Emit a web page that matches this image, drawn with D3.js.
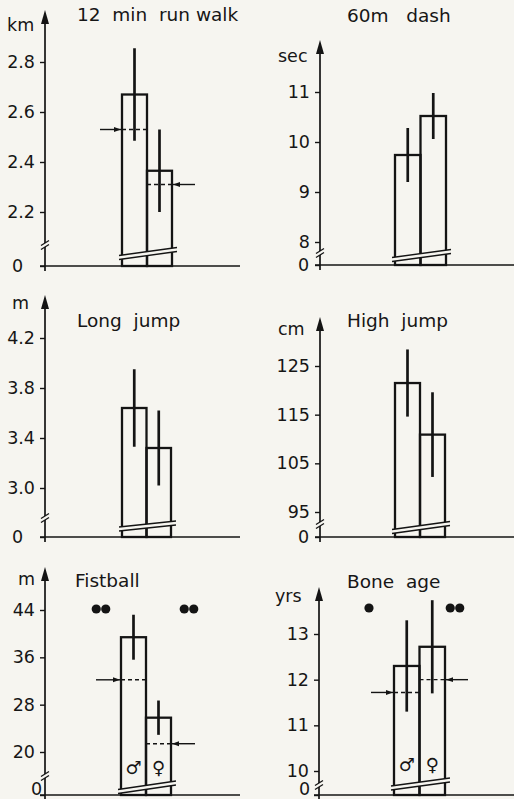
<!DOCTYPE html>
<html>
<head>
<meta charset="utf-8">
<script src="https://cdn.jsdelivr.net/npm/d3@7"></script>
<style>
  html, body { margin: 0; padding: 0; background: #f6f5f0; }
  svg { display: block; }
  text { font-family: "DejaVu Sans", sans-serif; fill: #161616; white-space: pre; }
</style>
</head>
<body>
<svg id="chart" width="514" height="799"></svg>
<script>
// values (one row per panel)
var titles = ["12  min  run walk", "60m   dash", "Long  jump", "High  jump", "Fistball", "Bone  age"];
var units = ["km", "sec", "m", "cm", "m", "yrs"];
var groups = ["male", "female"];
var symbols = ["\u2642", "\u2640"];

var meanValues = [[2.67, 2.365], [9.74, 10.52], [3.64, 3.32], [121.5, 110.9], [39.4, 25.8], [12.3, 12.72]];
var sdValues = [[0.185, 0.165], [0.54, 0.46], [0.31, 0.3], [6.9, 8.7], [3.8, 2.9], [1.0, 1.02]];
var refValues = [[2.53, 2.31], null, null, null, [32.2, 21.4], [11.72, 12.0]];

var tickValues = [[0, 2.2, 2.4, 2.6, 2.8], [0, 8, 9, 10, 11], [0, 3.0, 3.4, 3.8, 4.2],
                  [0, 95, 105, 115, 125], [0, 20, 28, 36, 44], [0, 10, 11, 12, 13]];
var tickLabels = [["0", "2.2", "2.4", "2.6", "2.8"], ["0", "8", "9", "10", "11"], ["0", "3.0", "3.4", "3.8", "4.2"],
                  ["0", "95", "105", "115", "125"], ["0", "20", "28", "36", "44"], ["0", "10", "11", "12", "13"]];
var sigDots = [[0, 0], [0, 0], [0, 0], [0, 0], [2, 2], [1, 2]];
var showSymbols = [false, false, false, false, true, true];

// page layout of each panel (pixels)
var layout = [
  {ax: 45, top: 10, base: 266, yLo: 212, yHi: 62, bars: [122, 172], xEnd: 240, cut: 245, brk: [8.5, 16.5],
   tx: 77, ty: 21, ux: 7, uy: 31, arrowX: [100, 195], zeroX: -33, zeroDy: 0},
  {ax: 320, top: 40, base: 265, yLo: 242, yHi: 92, bars: [395, 446], xEnd: 520, cut: 253, brk: [5.5, 13.5],
   tx: 347, ty: 22, ux: 278, uy: 62, zeroX: -22, zeroDy: 0},
  {ax: 45, top: 295, base: 537, yLo: 488, yHi: 338, bars: [122, 171], xEnd: 240, cut: 518, brk: [8, 14],
   tx: 77, ty: 327, ux: 12, uy: 309, zeroX: -33, zeroDy: 0},
  {ax: 320, top: 317, base: 537, yLo: 512, yHi: 366, bars: [395, 445], xEnd: 520, cut: 524, brk: [5.5, 13.5],
   tx: 347, ty: 327, ux: 278, uy: 335, zeroX: -22, zeroDy: 0},
  {ax: 45, top: 567, base: 795, yLo: 752, yHi: 610, bars: [121, 171], xEnd: 240, cut: 776, brk: [3.5, 12],
   tx: 75, ty: 587, ux: 18, uy: 585, arrowX: [96, 195], sigX: [101, 189], sigY: 609, symY: 774,
   zeroX: -14, zeroDy: -6},
  {ax: 319, top: 587, base: 795, yLo: 771, yHi: 634, bars: [394, 445], xEnd: 520, cut: 785, brk: [7, 15],
   tx: 347, ty: 588, ux: 275, uy: 602, arrowX: [371, 468], sigX: [369, 455], sigY: 608, symY: 771,
   zeroX: -20, zeroDy: -6}
];

var ink = "#141414", bg = "#f6f5f0";
var svg = d3.select("#chart");

svg.append("defs").append("marker")
  .attr("id", "head")
  .attr("viewBox", "0 0 10 10")
  .attr("refX", 10).attr("refY", 5)
  .attr("markerWidth", 7).attr("markerHeight", 7)
  .attr("markerUnits", "userSpaceOnUse")
  .attr("orient", "auto")
  .append("path")
  .attr("d", "M0,1.5 L10,5 L0,8.5 Z")
  .attr("fill", ink);

layout.forEach(function(L, p) {
  var g = svg.append("g");
  var ticks = tickValues[p];
  var lo = ticks[1], hi = ticks[ticks.length - 1];

  // broken axis: 0 sits on the baseline, the rest is linear
  var y = d3.scaleLinear()
    .domain([0, lo, hi])
    .range([L.base, L.yLo, L.yHi]);

  var x = d3.scaleBand()
    .domain(groups)
    .range(L.bars)
    .padding(0);

  // x axis
  g.append("line")
    .attr("x1", L.ax - 5).attr("x2", L.xEnd)
    .attr("y1", L.base).attr("y2", L.base)
    .attr("stroke", ink).attr("stroke-width", 1.7);

  // y axis line with arrow
  g.append("line")
    .attr("x1", L.ax).attr("x2", L.ax)
    .attr("y1", L.base + 5).attr("y2", L.top + 8)
    .attr("stroke", ink).attr("stroke-width", 1.7);
  g.append("path")
    .attr("d", "M" + L.ax + "," + L.top + " l4,14 l-8,0 Z")
    .attr("fill", ink);

  // axis break mark
  g.append("rect")
    .attr("x", L.ax - 3).attr("y", L.cut - 2)
    .attr("width", 6).attr("height", 4)
    .attr("fill", bg);
  [-2, 2].forEach(function(o) {
    g.append("line")
      .attr("x1", L.ax - 4).attr("x2", L.ax + 4)
      .attr("y1", L.cut + o + 2.5).attr("y2", L.cut + o - 2.5)
      .attr("stroke", ink).attr("stroke-width", 1.3);
  });

  var axis = g.append("g")
    .attr("transform", "translate(" + L.ax + ",0)")
    .call(d3.axisLeft(y)
      .tickValues(ticks)
      .tickSize(5)
      .tickPadding(5)
      .tickFormat(function(d, i) { return tickLabels[p][i]; }));
  axis.select(".domain").remove();
  axis.selectAll("line").attr("stroke", ink).attr("stroke-width", 1.4);
  axis.selectAll("text")
    .attr("font-size", "17.5px")
    .attr("fill", ink)
    .style("font-family", "DejaVu Sans, sans-serif");
  // the zero label sits a little apart from the others
  axis.selectAll(".tick").filter(function(d) { return d === 0; })
    .select("text")
    .attr("x", L.zeroX)
    .attr("text-anchor", "start")
    .attr("y", L.zeroDy);

  // title and unit
  g.append("text")
    .attr("x", L.tx).attr("y", L.ty)
    .attr("font-size", "18.5px")
    .text(titles[p]);
  g.append("text")
    .attr("x", L.ux).attr("y", L.uy)
    .attr("font-size", "17.5px")
    .text(units[p]);

  // bars
  g.selectAll(".bar")
    .data(groups)
    .enter().append("rect")
    .attr("class", "bar")
    .attr("x", function(d) { return x(d); })
    .attr("y", function(d, i) { return y(meanValues[p][i]); })
    .attr("width", x.bandwidth())
    .attr("height", function(d, i) { return y(0) - y(meanValues[p][i]); })
    .attr("fill", "none")
    .attr("stroke", ink)
    .attr("stroke-width", 2.3);

  // bar break (double slanted line)
  var bx0 = L.bars[0] - 3, bx1 = L.bars[1] + 5;
  var yl = L.base - L.brk[0], yr = L.base - L.brk[1];
  g.append("path")
    .attr("d", "M" + bx0 + "," + (yl - 2) + " L" + bx1 + "," + (yr - 2) +
               " L" + bx1 + "," + (yr + 2) + " L" + bx0 + "," + (yl + 2) + " Z")
    .attr("fill", bg);
  [-2, 2].forEach(function(o) {
    g.append("line")
      .attr("x1", bx0).attr("y1", yl + o)
      .attr("x2", bx1).attr("y2", yr + o)
      .attr("stroke", ink).attr("stroke-width", 1.4);
  });

  // error bars (±SD)
  g.selectAll(".err")
    .data(groups)
    .enter().append("line")
    .attr("class", "err")
    .attr("x1", function(d) { return x(d) + x.bandwidth() / 2; })
    .attr("x2", function(d) { return x(d) + x.bandwidth() / 2; })
    .attr("y1", function(d, i) { return y(meanValues[p][i] - sdValues[p][i]); })
    .attr("y2", function(d, i) { return y(meanValues[p][i] + sdValues[p][i]); })
    .attr("stroke", ink)
    .attr("stroke-width", 2.7);

  // reference values: dashed line with arrow
  if (refValues[p]) {
    refValues[p].forEach(function(v, i) {
      var x0 = x(groups[i]), x1 = x0 + x.bandwidth();
      g.append("line")
        .attr("x1", x0).attr("x2", x1)
        .attr("y1", y(v)).attr("y2", y(v))
        .attr("stroke", ink).attr("stroke-width", 1.4)
        .attr("stroke-dasharray", "4,3");
      g.append("line")
        .attr("x1", L.arrowX[i]).attr("x2", i === 0 ? x0 - 1 : x1 + 1)
        .attr("y1", y(v)).attr("y2", y(v))
        .attr("stroke", ink).attr("stroke-width", 1.4)
        .attr("marker-end", "url(#head)");
    });
  }

  // significance dots
  sigDots[p].forEach(function(n, i) {
    for (var k = 0; k < n; k++) {
      g.append("circle")
        .attr("cx", L.sigX[i] + (n === 2 ? (k - 0.5) * 9.5 : 0))
        .attr("cy", L.sigY)
        .attr("r", 4.6)
        .attr("fill", ink);
    }
  });

  // sex symbols inside the bars
  if (showSymbols[p]) {
    g.selectAll(".sym")
      .data(groups)
      .enter().append("text")
      .attr("class", "sym")
      .attr("x", function(d) { return x(d) + x.bandwidth() / 2; })
      .attr("y", L.symY)
      .attr("text-anchor", "middle")
      .attr("font-size", "18px")
      .text(function(d, i) { return symbols[i]; });
  }
});
</script>
</body>
</html>
